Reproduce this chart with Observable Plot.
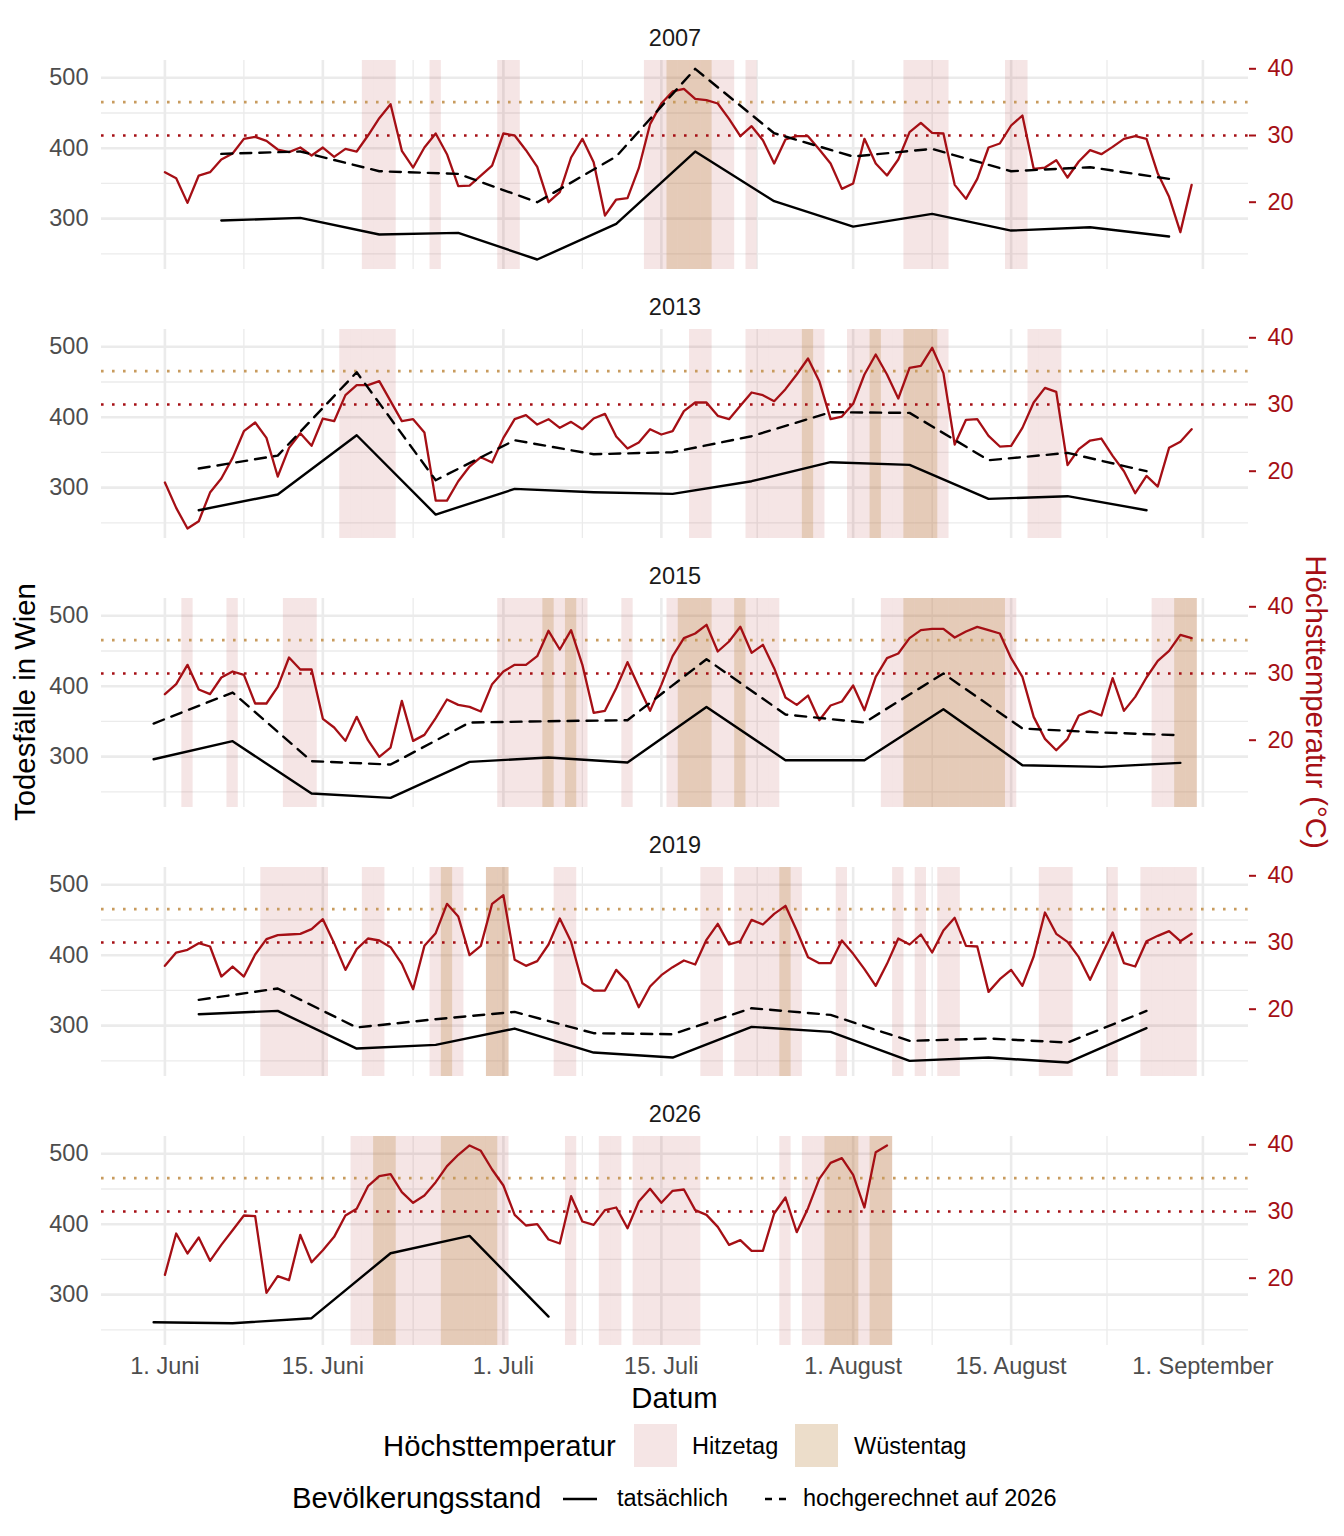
<!DOCTYPE html>
<html><head><meta charset="utf-8">
<script src="https://cdn.jsdelivr.net/npm/d3@7"></script>
<script src="https://cdn.jsdelivr.net/npm/@observablehq/plot@0.6"></script>
<style>
body{margin:0;background:#fff;}
#wrap{position:relative;width:1344px;height:1536px;font-family:"Liberation Sans",Arial,Helvetica,sans-serif;}
#wrap svg.panel{position:absolute;left:0;overflow:visible;}
#over{position:absolute;left:0;top:0;pointer-events:none;}
</style></head><body><div id="wrap"></div>
<script>
// ---------- data ----------
const years = [2007, 2013, 2015, 2019, 2026];

// daily maximum temperature (°C), index 0 = 1 June
const temp2007 = [24.5,23.6,19.9,24.0,24.5,26.4,27.3,29.5,29.8,29.2,27.9,27.5,28.2,27.0,28.2,26.8,28.0,27.6,30.0,32.6,34.7,27.7,25.2,28.2,30.3,27.2,22.4,22.5,24.0,25.5,30.3,30.0,27.8,25.3,20.0,21.5,26.7,29.5,26.0,18.0,20.4,20.6,25.1,31.7,34.8,36.6,37.0,
  35.5,35.3,34.8,32.5,29.9,31.4,29.3,25.8,29.4,29.9,29.9,27.9,25.8,22.0,22.8,29.5,25.8,24.0,26.4,30.5,31.9,30.4,30.3,22.6,20.5,23.5,28.2,28.8,31.5,33.0,25.0,25.2,26.3,23.7,26.1,27.8,27.2,28.3,29.5,29.9,29.5,24.3,20.8,15.5,22.6];
const temp2013 = [18.3,14.5,11.4,12.5,16.8,18.9,22.0,26.0,27.3,25.0,19.2,23.5,25.7,23.8,27.9,27.5,31.4,32.9,32.9,33.5,30.5,27.5,27.8,25.8,15.6,15.6,18.5,20.7,22.1,21.3,25.0,27.8,28.4,27.0,27.8,26.5,27.4,26.3,27.9,28.6,25.2,23.4,24.3,26.3,25.5,26.0,
  29.0,30.3,30.3,28.3,27.8,29.8,31.8,31.4,30.5,32.3,34.5,36.9,33.5,27.8,28.2,30.1,34.5,37.5,34.5,30.9,35.5,35.8,38.5,34.7,24.0,27.7,27.8,25.3,23.7,23.8,26.5,30.3,32.5,31.9,20.9,23.3,24.6,24.9,22.3,20.0,16.7,19.3,17.7,23.5,24.4,26.3];
const temp2015 = [26.9,28.4,31.3,27.6,26.9,29.4,30.3,29.8,25.5,25.5,28.0,32.4,30.6,30.6,23.2,21.9,19.9,23.5,20.0,17.5,18.9,25.9,19.9,20.8,23.3,26.1,25.3,25.0,24.3,28.4,30.3,31.3,31.3,32.6,36.4,33.6,36.5,31.3,24.1,24.4,27.8,31.7,28.0,24.4,28.3,32.6,
  35.3,36.0,37.3,33.3,34.8,37.0,33.1,34.3,30.8,26.4,25.3,26.7,23.0,25.2,25.8,28.2,24.5,29.5,32.3,33.0,35.3,36.5,36.7,36.7,35.4,36.3,37.0,36.5,36.0,32.3,29.5,23.5,20.2,18.5,20.2,23.7,24.4,23.7,29.3,24.4,26.5,29.4,31.9,33.4,35.8,35.3];
const temp2019 = [26.5,28.5,28.9,29.9,29.4,24.9,26.4,24.9,28.2,30.5,31.1,31.2,31.3,32.0,33.5,29.9,25.9,29.0,30.6,30.3,29.3,26.8,23.0,29.5,31.4,35.8,33.9,28.1,29.5,35.8,37.1,27.4,26.5,27.2,29.7,33.6,30.1,23.9,22.8,22.8,25.9,24.1,20.3,23.4,25.1,26.3,
  27.3,26.7,30.4,32.8,29.7,30.2,33.4,32.7,34.3,35.5,31.8,27.8,26.9,26.9,30.3,28.3,26.0,23.5,26.8,30.6,29.7,31.2,28.5,31.8,33.7,29.5,29.4,22.6,24.5,25.9,23.5,27.9,34.5,31.3,30.1,27.8,24.4,28.0,31.5,26.9,26.4,30.2,31.0,31.7,30.2,31.3];
const temp2026 = [20.5,26.7,23.7,26.1,22.6,25.0,27.2,29.4,29.3,17.8,20.3,19.7,26.5,22.4,24.2,26.2,29.4,30.4,33.8,35.3,35.6,32.9,31.3,32.4,34.4,36.8,38.5,39.9,39.1,36.3,33.9,29.5,27.9,28.1,25.8,25.2,32.3,28.5,28.0,30.2,30.6,27.5,31.5,33.4,31.3,33.1,33.3,
  30.2,29.5,27.7,25.0,25.7,24.1,24.1,29.7,32.1,26.9,30.5,34.9,37.3,38.0,35.5,30.6,38.9,39.9];

// weekly deaths in Vienna: first week's day offset from 1 June, then one value per week
const weekStart = [5, 3, -1, 3, -1];
const actual2007 = [297.3,301.0,277.4,279.7,241.9,292.5,395.3,324.7,288.7,306.7,283.0,287.8,274.5];
const projected2007 = [392.0,395.3,367.3,363.5,323.3,388.2,512.7,421.3,388.2,399.1,367.3,373.0,356.4];
const actual2013 = [267.9,290.2,374.4,261.7,298.2,293.5,291.1,309.1,336.1,332.3,284.0,287.8,267.9];
const projected2013 = [327.1,345.5,463.9,310.5,367.3,347.4,350.3,373.0,407.1,406.2,338.9,349.3,323.3];
const actual2015 = [296.3,321.9,247.5,241.4,292.5,298.7,291.6,370.6,294.9,294.9,367.3,287.8,285.4,291.1];
const projected2015 = [347.0,391.0,293.5,288.7,348.4,350.3,351.7,438.4,359.8,348.4,418.0,339.9,334.2,330.4];
const actual2019 = [316.2,320.9,267.4,272.6,295.8,261.7,254.6,298.2,291.1,249.9,254.6,247.5,296.3];
const projected2019 = [336.6,352.7,297.3,309.1,319.5,289.2,287.8,324.7,315.2,278.3,281.6,276.0,320.9];
const actual2026 = [260.8,259.4,266.5,358.8,383.4,268.8];
const projected2026 = [];

const temps = [temp2007, temp2013, temp2015, temp2019, temp2026];
const actuals = [actual2007, actual2013, actual2015, actual2019, actual2026];
const projecteds = [projected2007, projected2013, projected2015, projected2019, projected2026];

// axis ticks
const xTickDays = [0, 14, 30, 44, 61, 75, 92];
const xTickLabels = ["1. Juni", "15. Juni", "1. Juli", "15. Juli", "1. August", "15. August", "1. September"];
const xMinorDays = [7, 22, 37, 52.5, 68, 83.5];
const deathTicks = [300, 400, 500];
const deathMinor = [250, 350, 450];
const tempTicks = [20, 30, 40];
const hitzeThreshold = 30, wuesteThreshold = 35;

// secondary axis transform (temperature -> deaths scale)
const T0 = 20, D0 = 323.3, K = 9.475;
const toDeaths = t => D0 + K * (t - T0);
const fromDeaths = d => T0 + (d - D0) / K;

const base = Date.UTC(2001, 5, 1);
const day = d => new Date(base + d * 864e5);

const RED = "#a50f15", GOLD = "#c89b5e", FONT = "'Liberation Sans', Arial, Helvetica, sans-serif";
const tickLabelMap = new Map(xTickDays.map((d, i) => [+day(d), xTickLabels[i]]));

const wrap = document.getElementById("wrap");
const PANEL = 269;

years.forEach((year, i) => {
  const last = i === years.length - 1;
  const tdata = temps[i].map((t, k) => ({k, date: day(k), t}));
  const hot = tdata.filter(r => r.t >= hitzeThreshold);
  const desert = tdata.filter(r => r.t >= wuesteThreshold);
  const act = actuals[i].map((v, w) => ({date: day(weekStart[i] + 7 * w), v}));
  const proj = projecteds[i].map((v, w) => ({date: day(weekStart[i] + 7 * w), v}));
  const grid = {stroke: "#ebebeb", strokeOpacity: 1};
  const svg = Plot.plot({
    width: 1344,
    height: last ? 60 + 209 + 45 : PANEL,
    marginLeft: 101, marginRight: 96, marginTop: 60, marginBottom: last ? 45 : 0,
    x: {type: "utc", domain: [day(-5.62), day(96.04)], axis: last ? undefined : null},
    y: {domain: [227.7, 524.6]},
    style: {fontFamily: FONT, fontSize: "23.5px", background: "transparent", overflow: "visible"},
    marks: [
      Plot.ruleY(deathMinor, {...grid, strokeWidth: 1.3}),
      Plot.ruleX(xMinorDays.map(day), {...grid, strokeWidth: 1.3}),
      Plot.ruleY(deathTicks, {...grid, strokeWidth: 2.6}),
      Plot.ruleX(xTickDays.map(day), {...grid, strokeWidth: 2.6}),
      Plot.rect(hot, {x1: r => day(r.k - 0.5), x2: r => day(r.k + 0.5), fill: RED, fillOpacity: 0.11}),
      Plot.rect(desert, {x1: r => day(r.k - 0.5), x2: r => day(r.k + 0.5), fill: "#bf8f4f", fillOpacity: 0.3}),
      Plot.ruleY([toDeaths(wuesteThreshold)], {stroke: GOLD, strokeWidth: 2.6, strokeDasharray: "2.6,8.4"}),
      Plot.ruleY([toDeaths(hitzeThreshold)], {stroke: RED, strokeWidth: 2.6, strokeDasharray: "2.6,8.4"}),
      Plot.line(tdata, {x: "date", y: r => toDeaths(r.t), stroke: RED, strokeWidth: 2.3}),
      Plot.line(proj, {x: "date", y: "v", stroke: "#000", strokeWidth: 2.4, strokeDasharray: "11,8"}),
      Plot.line(act, {x: "date", y: "v", stroke: "#000", strokeWidth: 2.4}),
      Plot.axisY(deathTicks, {anchor: "left", tickSize: 0, tickPadding: 13, fontSize: 23.5, color: "#4d4d4d", label: null}),
      Plot.axisY(tempTicks.map(toDeaths), {anchor: "right", tickSize: 7, tickPadding: 12, strokeWidth: 2,
        tickFormat: d => String(Math.round(fromDeaths(d))), fontSize: 23.5, color: RED, label: null}),
      last ? Plot.axisX(xTickDays.map(day), {anchor: "bottom", tickSize: 0, tickPadding: 12, fontSize: 23.5,
        color: "#4d4d4d", label: null, tickFormat: d => tickLabelMap.get(+d)}) : null,
      Plot.text([year], {frameAnchor: "top", dy: -22, lineAnchor: "middle", fontSize: 23.5, fill: "#1a1a1a", text: d => String(d)})
    ]
  });
  svg.classList.add("panel");
  svg.style.top = (PANEL * i) + "px";
  wrap.appendChild(svg);
});

// ---------- titles and legend ----------
const TITLE = 29.3;
const ov = d3.select(wrap).append("svg").attr("id", "over").attr("width", 1344).attr("height", 1536)
  .style("font-family", FONT);
ov.append("text").attr("x", 674.5).attr("y", 1408).attr("text-anchor", "middle").attr("font-size", TITLE).attr("fill", "#000").text("Datum");
ov.append("text").attr("transform", "translate(35,702) rotate(-90)").attr("text-anchor", "middle").attr("font-size", TITLE).attr("fill", "#000").text("Todesfälle in Wien");
ov.append("text").attr("transform", "translate(1306,702) rotate(90)").attr("text-anchor", "middle").attr("font-size", TITLE).attr("fill", RED).text("Höchsttemperatur (°C)");

const legendFill = [
  {label: "Hitzetag", layers: [{fill: RED, op: 0.11}], x: 634, tx: 692},
  {label: "Wüstentag", layers: [{fill: "#bf8f4f", op: 0.3}], x: 795, tx: 854}
];
ov.append("text").attr("x", 383).attr("y", 1456).attr("font-size", TITLE).attr("fill", "#000").text("Höchsttemperatur");
legendFill.forEach(l => {
  l.layers.forEach(s => ov.append("rect").attr("x", l.x).attr("y", 1424).attr("width", 43).attr("height", 43)
    .attr("fill", s.fill).attr("fill-opacity", s.op));
  ov.append("text").attr("x", l.tx).attr("y", 1454).attr("font-size", 23.5).attr("fill", "#000").text(l.label);
});
ov.append("text").attr("x", 292).attr("y", 1508).attr("font-size", TITLE).attr("fill", "#000").text("Bevölkerungsstand");
ov.append("line").attr("x1", 563).attr("x2", 597).attr("y1", 1499).attr("y2", 1499).attr("stroke", "#000").attr("stroke-width", 2.4);
ov.append("text").attr("x", 617).attr("y", 1506).attr("font-size", 23.5).attr("fill", "#000").text("tatsächlich");
ov.append("line").attr("x1", 765).attr("x2", 786).attr("y1", 1499).attr("y2", 1499).attr("stroke", "#000").attr("stroke-width", 2.4).attr("stroke-dasharray", "7,7");
ov.append("text").attr("x", 803).attr("y", 1506).attr("font-size", 23.5).attr("fill", "#000").text("hochgerechnet auf 2026");
</script></body></html>
